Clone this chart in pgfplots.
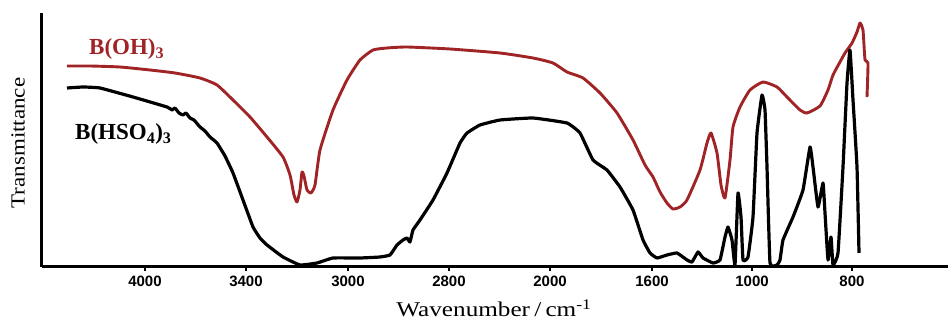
\documentclass[border=0pt]{standalone}
\usepackage{pgfplots}
\pgfplotsset{compat=1.18}
\usepackage{fontspec}
\setmainfont{Liberation Serif}
\newfontfamily\arialfont{Liberation Sans}
\definecolor{boh}{RGB}{160,35,38}
\begin{document}
\begin{tikzpicture}
\begin{axis}[
  width=906pt, height=254pt, scale only axis,
  xmin=42, xmax=948, ymin=-267, ymax=-13,
  axis x line=bottom, axis y line=left,
  axis line style={-, line width=3pt},
  xtick={145,246,348,449,550,652,752,852},
  xticklabels={4000,3400,3000,2800,2000,1600,1000,800},
  ytick=\empty,
  tick align=outside, major tick length=4.5pt,
  tick style={line width=1.8pt, black},
  xticklabel style={font=\arialfont\bfseries\fontsize{15}{17}\selectfont, yshift=-1pt},
  clip=false,
]
\addplot[boh, line width=2.9pt, line join=round, smooth, tension=0.3] coordinates {
(67,-66)(90,-66)(120,-67)(150,-70)(175,-73)(200,-78)(217,-85)(233,-100)(250,-117)(267,-137)(283,-157)(290,-175)(294,-195)(297,-202)(300,-190)(302,-172)(304,-176)(307,-190)(311,-193)(315,-185)(320,-150)(333,-110)(347,-80)(360,-60)(373,-50)(387,-48)(407,-47)(450,-49)(500,-53)(533,-58)(553,-63)(567,-72)(583,-78)(600,-93)(617,-113)(633,-140)(645,-165)(653,-177)(660,-192)(667,-203)(673,-209)(680,-207)(687,-200)(700,-170)(707,-143)(711,-133)(717,-153)(721,-185)(725,-198)(730,-160)(733,-127)(740,-107)(750,-90)(763,-82)(777,-87)(787,-97)(800,-110)(807,-113)(820,-106)(828,-90)(833,-75)(840,-62)(845,-53)(852,-43)(857,-32)(860,-23)(863,-30)(865,-60)(868,-63)(867,-97)
};
\addplot[black, line width=3.2pt, line join=round, smooth, tension=0.2] coordinates {
(67,-88)(83,-87)(100,-88)(133,-97)(167,-107)(172,-110)(175,-108)(179,-113)(183,-115)(186,-113)(190,-118)(194,-120)(200,-127)(205,-131)(210,-137)(217,-143)(225,-156)(233,-173)(243,-200)(253,-227)(260,-238)(267,-245)(283,-257)(300,-265)(317,-263)(333,-258)(360,-258)(380,-257)(390,-255)(397,-245)(403,-240)(407,-238)(410,-242)(413,-230)(420,-220)(433,-200)(447,-173)(460,-143)(467,-133)(480,-125)(500,-120)(533,-118)(567,-123)(580,-133)(593,-160)(607,-170)(620,-187)(633,-210)(643,-240)(650,-253)(657,-258)(667,-255)(677,-253)(687,-260)(692,-262)(698,-252)(703,-258)(713,-263)(720,-260)(725,-237)(728,-227)(732,-240)(735,-265)(738,-193)(741,-217)(743,-260)(748,-257)(753,-217)(757,-133)(762,-95)(765,-110)(767,-167)(770,-263)(777,-265)(780,-260)(783,-240)(793,-217)(803,-190)(810,-147)(813,-167)(818,-207)(823,-183)(825,-213)(828,-260)(831,-237)(833,-265)(838,-253)(843,-167)(847,-83)(850,-50)(853,-100)(857,-167)(859,-253)
};
\node[anchor=base west, text=boh, font=\bfseries\fontsize{23}{25}\selectfont, inner sep=0pt] at (axis cs:89,-55) {B(OH)\textsubscript{3}};
\node[anchor=base west, text=black, font=\bfseries\fontsize{23}{25}\selectfont, inner sep=0pt] at (axis cs:75,-140) {B(HSO\textsubscript{4})\textsubscript{3}};
\node[rotate=90, inner sep=0pt] at (axis cs:18,-143) {\scalebox{1.15}[1]{\fontsize{20}{22}\selectfont Transmittance}};
\node[anchor=base, inner sep=0pt] at (axis cs:494,-317) {\scalebox{1.2}[1]{\fontsize{21}{23}\selectfont Wavenumber\,/\,cm\textsuperscript{-1}}};
\end{axis}
\pgfresetboundingbox
\path[use as bounding box] (current axis.south west) ++(-42pt,-53pt) rectangle ++(948pt,320pt);
\end{tikzpicture}
\end{document}
